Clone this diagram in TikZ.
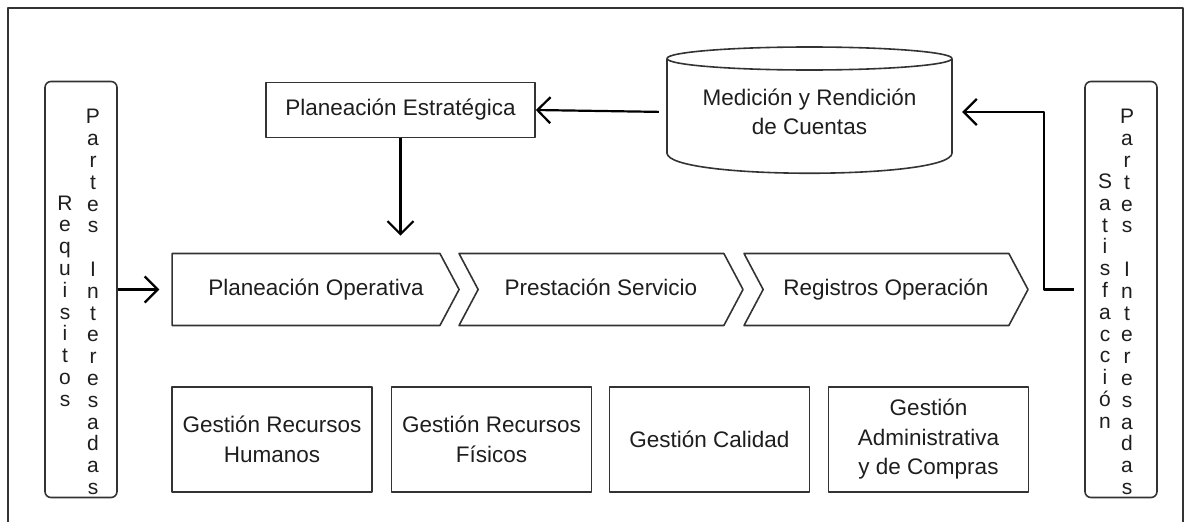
\documentclass[tikz,border=0pt]{standalone}
\usepackage{fontspec}
\setmainfont{Liberation Sans}
\usetikzlibrary{arrows.meta,shapes.symbols}
\definecolor{linea}{HTML}{333333}
\definecolor{texto}{HTML}{1E1E1E}
\tikzset{
  borde/.style={draw=linea, line width=1.6pt},
  caja/.style={borde, text=texto, align=center, inner sep=0pt, minimum width=200pt, minimum height=105pt},
  lado/.style={borde, rounded corners=6pt, minimum width=72pt, minimum height=416pt, inner sep=0pt},
  letras/.style={text=texto, align=center, inner sep=0pt, font=\fontsize{21}{21.8}\selectfont},
  paso/.style={borde, text=texto, shape=signal, signal to=east, signal from=west, signal pointer angle=124,
    minimum width=284pt, minimum height=72pt, inner sep=0pt, text height=16pt, text depth=5pt},
  flecha/.style={draw=black, line width=2.2pt, ->}
}
\begin{document}
\begin{tikzpicture}[x=1pt, y=-1pt, line join=round, >={Straight Barb[length=13pt,width=26pt]}, font=\fontsize{22.5}{29.5}\selectfont]
\useasboundingbox (0,0) rectangle (1186,522);
% marco exterior
\draw[borde] (8,540) -- (8,8) -- (1183,8) -- (1183,540);
% partes interesadas
\node[lado] (req) at (81,289.5) {};
\node[letras] (reqA) at (65,301) {R\\e\\q\\u\\i\\s\\i\\t\\o\\s};
\node[letras] (reqB) at (93,302) {P\\a\\r\\t\\e\\s\\\mbox{}\\I\\n\\t\\e\\r\\e\\s\\a\\d\\a\\s};
\node[lado] (sat) at (1121,289.5) {};
\node[letras] (satA) at (1105,301) {S\\a\\t\\i\\s\\f\\a\\c\\c\\i\\ó\\n};
\node[letras] (satB) at (1127,302) {P\\a\\r\\t\\e\\s\\\mbox{}\\I\\n\\t\\e\\r\\e\\s\\a\\d\\a\\s};
% planeacion y medicion
\node[caja, minimum width=269pt, minimum height=55pt] (pe) at (400.5,110) {Planeación Estratégica};
\draw[borde] (809.5,58.5) ellipse[x radius=142.5, y radius=11.5];
\draw[borde] (667,58.5) -- (667,153) .. controls (667,180) and (952,180) .. (952,153) -- (952,58.5);
\node[text=texto, align=center, minimum width=285pt, minimum height=126pt, inner sep=0pt] (med) at (809.5,112)
  {Medición y Rendición\\de Cuentas};
% cadena de procesos
\node[paso, signal from=nowhere, minimum width=287pt] (op) at (306,289.5) {\hspace*{20pt}Planeación Operativa};
\node[paso] (ps) at (601,289.5) {Prestación Servicio};
\node[paso] (ro) at (886,289.5) {Registros Operación};
% procesos de apoyo
\foreach \n/\x/\t in {grh/272/{Gestión Recursos\\Humanos}, grf/491.5/{Gestión Recursos\\Físicos},
  gc/709.5/{Gestión Calidad}, gac/928.5/{Gestión\\Administrativa\\y de Compras}}
  \node[caja] (\n) at (\x,439.5) {\t};
% flechas
\draw[flecha, shorten <=8pt] (med.west) -- (pe.east);
\draw[flecha, shorten >=17pt] (pe.south) -- (pe.south |- op.north);
\draw[flecha, shorten >=12pt] (req.east) -- (op.west);
\draw[flecha, shorten <=10pt, shorten >=10pt] (sat.west) -- ++(-40,0) |- (med.east);
\end{tikzpicture}
\end{document}
